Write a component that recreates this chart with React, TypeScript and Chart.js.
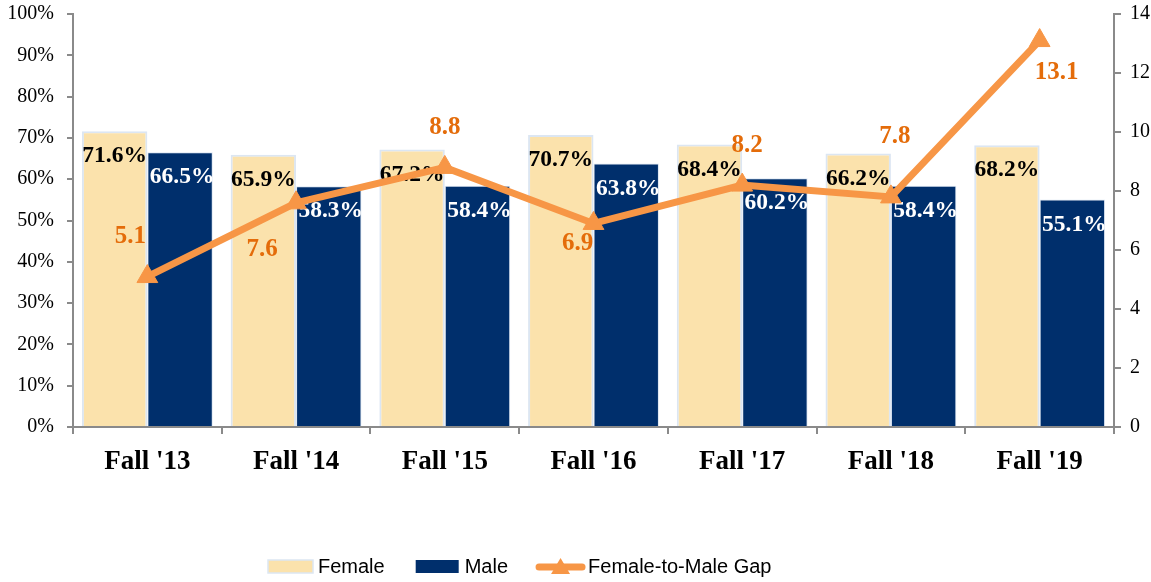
import React, { useEffect, useRef } from "react";
import { Chart, registerables } from "chart.js";

Chart.register(...registerables);

const categories = ["Fall '13", "Fall '14", "Fall '15", "Fall '16", "Fall '17", "Fall '18", "Fall '19"];
const femaleValues = [71.6, 65.9, 67.2, 70.7, 68.4, 66.2, 68.2];
const maleValues = [66.5, 58.3, 58.4, 63.8, 60.2, 58.4, 55.1];
const gapValues = [5.1, 7.6, 8.8, 6.9, 8.2, 7.8, 13.1];
const leftTicksMax = 100;
const rightTicksMax = 14;

// label placement offsets for gap labels (dx, dy in px relative to point)
const gapLabelOffsets: [number, number][] = [
  [-17, -40],
  [-34, 47],
  [0, -40],
  [-16, 20],
  [5, -40],
  [4, -60],
  [17, 32],
];

const FEMALE_COLOR = "#fbe2ac";
const MALE_COLOR = "#002f6c";
const GAP_COLOR = "#f79646";
const GAP_LABEL_COLOR = "#e46c0a";
const AXIS_COLOR = "#8a8a8a";
const SERIF = "'Liberation Serif', 'Times New Roman', serif";
const SANS = "'Liberation Sans', Arial, sans-serif";

const labelPlugin = {
  id: "customLabels",
  afterDatasetDraw(chart: any, args: any) {
    const meta = args.meta;
    const ctx = chart.ctx;
    if (meta.type === "bar") {
      const ds = chart.data.datasets[meta.index];
      ctx.save();
      ctx.font = `bold 23.5px ${SERIF}`;
      ctx.textAlign = "center";
      ctx.textBaseline = "middle";
      ctx.fillStyle = meta.index === 0 ? "#000000" : "#ffffff";
      meta.data.forEach((el: any, i: number) => {
        ctx.fillText(ds.data[i].toFixed(1) + "%", el.x + (meta.index === 0 ? 0 : 2), el.y + 25);
      });
      ctx.restore();
    }
  },
  afterDatasetsDraw(chart: any) {
    const ctx = chart.ctx;
    const meta = chart.getDatasetMeta(2);
    const ds = chart.data.datasets[2];
    ctx.save();
    ctx.font = `bold 25px ${SERIF}`;
    ctx.textAlign = "center";
    ctx.textBaseline = "middle";
    ctx.fillStyle = GAP_LABEL_COLOR;
    meta.data.forEach((el: any, i: number) => {
      const [dx, dy] = gapLabelOffsets[i];
      ctx.fillText(ds.data[i].toFixed(1), el.x + dx, el.y + dy);
    });
    ctx.restore();
  },
  afterDraw(chart: any) {
    const ctx = chart.ctx;
    ctx.save();
    ctx.font = `20px ${SANS}`;
    ctx.textBaseline = "middle";
    const cy = 567;
    let x = 268;
    // Female
    ctx.fillStyle = FEMALE_COLOR;
    ctx.fillRect(x, cy - 7, 45, 13);
    ctx.strokeStyle = "#dce6f2";
    ctx.lineWidth = 1.5;
    ctx.strokeRect(x, cy - 7, 45, 13);
    x += 50;
    ctx.fillStyle = "#000";
    ctx.fillText("Female", x, cy);
    x += ctx.measureText("Female").width + 31;
    // Male
    ctx.fillStyle = MALE_COLOR;
    ctx.fillRect(x, cy - 7, 43, 13);
    x += 49;
    ctx.fillStyle = "#000";
    ctx.fillText("Male", x, cy);
    x += ctx.measureText("Male").width + 28;
    // Gap
    ctx.strokeStyle = GAP_COLOR;
    ctx.lineWidth = 7;
    ctx.lineCap = "round";
    ctx.beginPath();
    ctx.moveTo(x + 3, cy);
    ctx.lineTo(x + 46, cy);
    ctx.stroke();
    ctx.fillStyle = GAP_COLOR;
    ctx.beginPath();
    ctx.moveTo(x + 24.5, cy - 9);
    ctx.lineTo(x + 34, cy + 7);
    ctx.lineTo(x + 15, cy + 7);
    ctx.closePath();
    ctx.fill();
    x += 52;
    ctx.fillStyle = "#000";
    ctx.fillText("Female-to-Male Gap", x, cy);
    ctx.restore();
  },
};

export default function App() {
  const canvasRef = useRef<HTMLCanvasElement | null>(null);

  useEffect(() => {
    if (!canvasRef.current) return;
    const chart = new Chart(canvasRef.current, {
      type: "bar",
      data: {
        labels: categories,
        datasets: [
          {
            type: "bar",
            label: "Female",
            data: femaleValues,
            backgroundColor: FEMALE_COLOR,
            borderColor: "#dce6f2",
            borderWidth: 2,
            yAxisID: "y",
            categoryPercentage: 0.88,
            barPercentage: 1,
            order: 1,
          },
          {
            type: "bar",
            label: "Male",
            data: maleValues,
            backgroundColor: MALE_COLOR,
            borderColor: "#dce6f2",
            borderWidth: 1,
            yAxisID: "y",
            categoryPercentage: 0.88,
            barPercentage: 1,
            order: 2,
          },
          {
            type: "line",
            label: "Female-to-Male Gap",
            data: gapValues,
            borderColor: GAP_COLOR,
            backgroundColor: GAP_COLOR,
            borderWidth: 7,
            pointStyle: "triangle",
            pointRadius: 12,
            pointBorderWidth: 1,
            pointBackgroundColor: GAP_COLOR,
            pointBorderColor: GAP_COLOR,
            tension: 0,
            yAxisID: "y1",
            order: 0,
          } as any,
        ],
      },
      options: {
        responsive: false,
        animation: false,
        layout: { padding: { top: 14, left: 0, right: 0, bottom: 0 } },
        plugins: {
          legend: { display: false },
          tooltip: { enabled: false },
        },
        scales: {
          x: {
            grid: {
              display: true,
              drawOnChartArea: false,
              drawTicks: true,
              tickLength: 7,
              color: AXIS_COLOR,
              lineWidth: 2,
              offset: true,
            },
            border: { color: AXIS_COLOR, width: 2 },
            ticks: {
              color: "#000",
              font: { family: SERIF, size: 27, weight: "bold" },
              padding: 12,
              maxRotation: 0,
            },
            afterFit(scale: any) {
              scale.height = 155;
              scale.paddingLeft = 0;
              scale.paddingRight = 0;
            },
          },
          y: {
            position: "left",
            min: 0,
            max: leftTicksMax,
            ticks: {
              stepSize: 10,
              color: "#000",
              font: { family: SERIF, size: 20 },
              padding: 13,
              callback: (v: any) => v + "%",
            },
            grid: {
              drawOnChartArea: false,
              drawTicks: true,
              tickLength: 6,
              color: AXIS_COLOR,
              lineWidth: 2,
            },
            border: { color: AXIS_COLOR, width: 2 },
            afterFit(scale: any) {
              scale.width = 73;
              scale.paddingTop = 0;
              scale.paddingBottom = 0;
            },
          },
          y1: {
            position: "right",
            min: 0,
            max: rightTicksMax,
            ticks: {
              stepSize: 2,
              color: "#000",
              font: { family: SERIF, size: 20 },
              padding: 9,
            },
            grid: {
              drawOnChartArea: false,
              drawTicks: true,
              tickLength: 7,
              color: AXIS_COLOR,
              lineWidth: 2,
            },
            border: { color: AXIS_COLOR, width: 2 },
            afterFit(scale: any) {
              scale.width = 37;
              scale.paddingTop = 0;
              scale.paddingBottom = 0;
            },
          },
        },
      },
      plugins: [labelPlugin],
    });
    return () => chart.destroy();
  }, []);

  return (
    <div style={{ position: "absolute", left: 0, top: 0, width: 1151, height: 582, background: "#fff" }}>
      <canvas ref={canvasRef} width={1151} height={582} />
    </div>
  );
}
